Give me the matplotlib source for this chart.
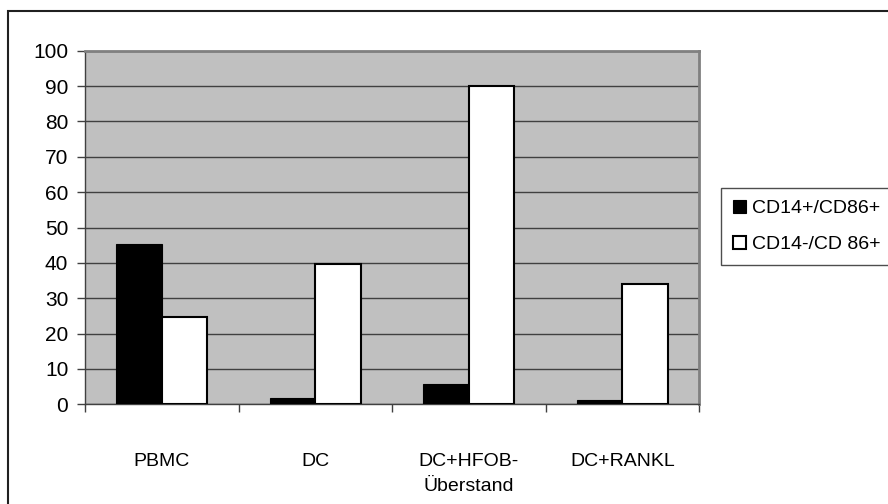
import numpy as np
import matplotlib.pyplot as plt
from matplotlib.patches import Rectangle

# Anteil der Zellpopulationen (%)
categories = ['PBMC', 'DC', 'DC+HFOB-\nÜberstand', 'DC+RANKL']
cd14_pos = [45.3, 1.9, 5.7, 1.2]     # CD14+/CD86+
cd14_neg = [24.8, 39.6, 89.9, 33.9]  # CD14-/CD 86+
yticks = list(range(0, 101, 10))

plt.rcParams['font.family'] = ['Liberation Sans', 'DejaVu Sans']

W, H = 888, 504
fig = plt.figure(figsize=(W / 100, H / 100), dpi=100)

# chart frame, cut off on the right and at the bottom
fig.patches.append(Rectangle((8 / W, -0.1), 1.2, (H - 10.5) / H + 0.1,
                             transform=fig.transFigure, fill=False,
                             edgecolor='#202020', lw=1.5))

ax = fig.add_axes([85 / W, (H - 404.3) / H, 614 / W, 353.6 / H])
ax.set_facecolor('#c0c0c0')

x = np.arange(len(categories))
bw = 0.296
ax.bar(x - bw / 2, cd14_pos, bw, color='black', edgecolor='black', lw=0.8,
       label='CD14+/CD86+', zorder=3)
ax.bar(x + bw / 2, cd14_neg, bw, color='white', edgecolor='black', lw=1.5,
       label='CD14-/CD 86+', zorder=3)

ax.set_xlim(-0.5, len(categories) - 0.5)
ax.set_ylim(0, 100)
ax.set_yticks(yticks)
ax.yaxis.grid(True, color='#404040', lw=1)
ax.set_axisbelow(True)

ax.set_xticks(x)
ax.set_xticklabels(categories, fontsize=14, linespacing=1.65)
ax.set_xticks(np.arange(len(categories) + 1) - 0.5, minor=True)
ax.tick_params(axis='x', which='major', length=0, pad=35)
ax.tick_params(axis='x', which='minor', length=6, width=1, color='#404040')
ax.tick_params(axis='y', length=6, width=1, color='#404040', pad=6,
               labelsize=15)

for side in ['top', 'right']:
    ax.spines[side].set_color('#808080')
    ax.spines[side].set_linewidth(2)
for side in ['left', 'bottom']:
    ax.spines[side].set_color('#404040')
    ax.spines[side].set_linewidth(1)

leg = fig.legend(loc='upper left', bbox_to_anchor=(721 / W, (H - 188) / H),
                 fontsize=14, frameon=True, fancybox=False, edgecolor='#202020',
                 handlelength=0.7, handleheight=0.7, handletextpad=0.3,
                 borderpad=0.6, labelspacing=0.95, borderaxespad=0)
leg.get_frame().set_linewidth(1)

fig.savefig('out.png', dpi=100)
